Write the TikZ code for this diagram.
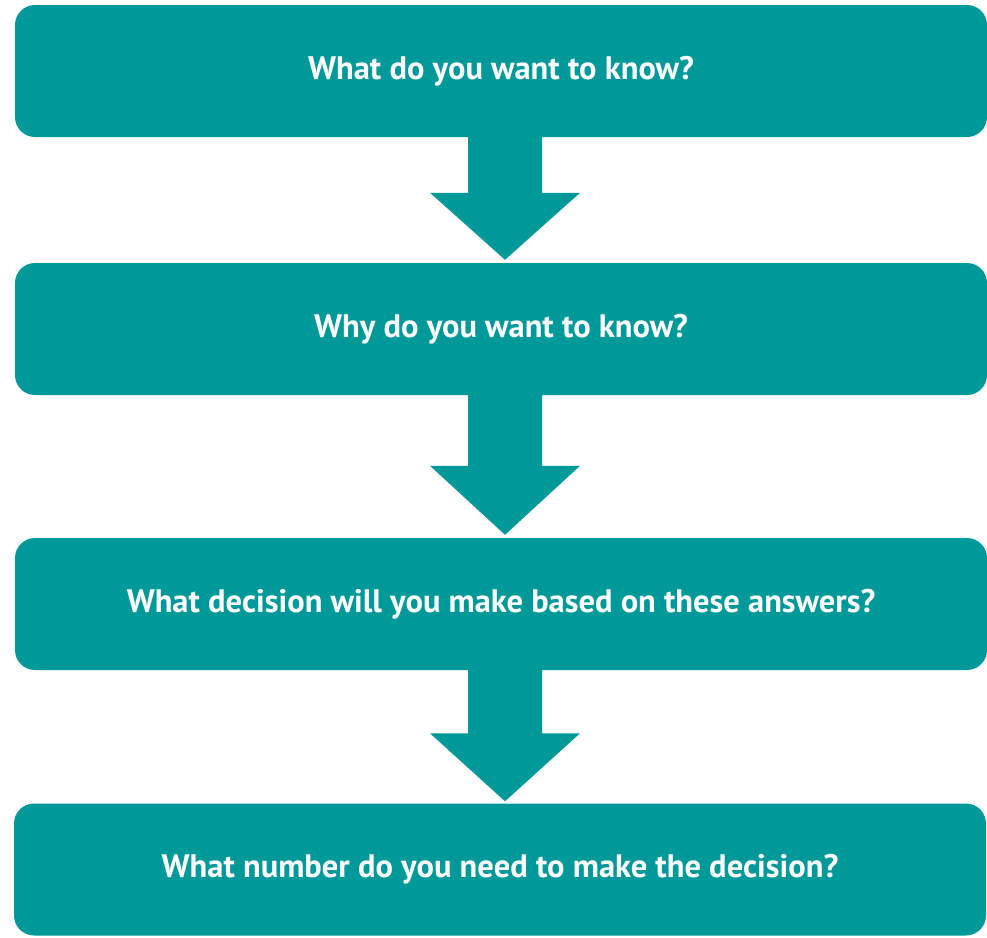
\documentclass[tikz,border=0pt]{standalone}
\usepackage{fontspec}
\setmainfont{PT Sans}
\usetikzlibrary{calc}
\definecolor{qteal}{HTML}{009999}
\begin{document}
\begin{tikzpicture}[x=1pt,y=-1pt,
    qbox/.style={rectangle, rounded corners=20pt, fill=qteal, text=white,
      minimum width=972pt, minimum height=132pt, inner sep=0pt,
      font=\bfseries\fontsize{32.5}{38}\selectfont}]
          \useasboundingbox (0,0) rectangle (987,937);
          \node[qbox] (q1) at (501,71){What do you want to know?};
          \node[qbox] (q2) at (501,329){Why do you want to know?};
          \node[qbox] (q3) at (501,604){What decision will you make based on these answers?};
          \node[qbox] (q4) at (500,869.5){What number do you need to make the decision?};
          % block arrows between the questions
          \coordinate (a1) at ($(q1.south)+(4,0)$);
          \coordinate (a2) at ($(q2.south)+(4,0)$);
          \coordinate (a3) at ($(q3.south)+(4,0)$);
          \fill[qteal] ($(a1)+(-37,-1)$) -- ($(a1)+(37,-1)$) -- ($(a1 |- q2.north)+(37,-70)$)
            -- ($(a1 |- q2.north)+(75,-70)$) -- ($(a1 |- q2.north)+(0,-3)$) -- ($(a1 |- q2.north)+(-75,-70)$)
            -- ($(a1 |- q2.north)+(-37,-70)$) -- cycle;
          \fill[qteal] ($(a2)+(-37,-1)$) -- ($(a2)+(37,-1)$) -- ($(a2 |- q3.north)+(37,-72)$)
            -- ($(a2 |- q3.north)+(75,-72)$) -- ($(a2 |- q3.north)+(0,-3)$) -- ($(a2 |- q3.north)+(-75,-72)$)
            -- ($(a2 |- q3.north)+(-37,-72)$) -- cycle;
          \fill[qteal] ($(a3)+(-37,-1)$) -- ($(a3)+(37,-1)$) -- ($(a3 |- q4.north)+(37,-70)$)
            -- ($(a3 |- q4.north)+(75,-70)$) -- ($(a3 |- q4.north)+(0,-2)$) -- ($(a3 |- q4.north)+(-75,-70)$)
            -- ($(a3 |- q4.north)+(-37,-70)$) -- cycle;
\end{tikzpicture}
\end{document}
